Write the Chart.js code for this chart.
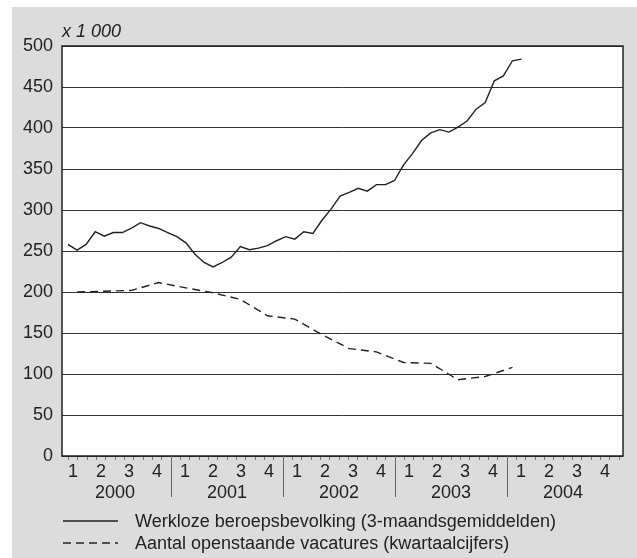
<!DOCTYPE html>
<html>
<head>
<meta charset="utf-8">
<script src="https://cdn.jsdelivr.net/npm/chart.js@4.4.1/dist/chart.umd.min.js"></script>
<style>
  html, body { margin: 0; padding: 0; background: #fff; }
  #wrap { width: 637px; height: 558px; position: relative; }
</style>
</head>
<body>
<div id="wrap"><canvas id="chart" width="637" height="558"></canvas></div>
<script>
// Werkloze beroepsbevolking, 3-maandsgemiddelden (x 1 000), one value per month from Jan 2000
const werkloos = [258, 251, 258, 273.5, 268, 272.5, 272.5, 278, 284.5, 280.5, 277.5, 272.5,
  267.5, 260, 246, 236, 230.5, 236, 242.5, 255.5, 251.5, 253.5, 256.5, 262.5,
  267.5, 264.5, 273.5, 271.5, 287.5, 301, 317, 321.5, 326.5, 323, 331, 331,
  336, 355, 369, 385, 394, 398, 395, 401, 408.5, 423, 431, 457.5, 463.5, 482, 484];

// Openstaande vacatures, kwartaalcijfers (x 1 000), Q1 2000 onwards
const vacatures = [200, 201, 202, 211.5, 205, 199, 191, 171, 167, 148, 131, 127, 114, 113, 93, 97, 108];

const years = ['2000', '2001', '2002', '2003', '2004'];
const quarters = ['1', '2', '3', '4'];
const seriesLabels = [
    'Werkloze beroepsbevolking (3-maandsgemiddelden)',
    'Aantal openstaande vacatures (kwartaalcijfers)'
];

const FONT = "'Liberation Sans', Arial, sans-serif";
const INK = '#222';

Chart.defaults.font.family = FONT;
Chart.defaults.color = INK;

// monthly series sits on its index, quarterly series on the middle month of each quarter
const werkloosPts = werkloos.map((v, i) => ({ x: i, y: v }));
const vacaturePts = vacatures.map((v, i) => ({ x: i * 3 + 1, y: v }));

// tick positions for the label axis: month marks + quarter centres
const labelTicks = [];
for (let m = 0.5; m <= 60; m += 0.5) labelTicks.push(m);

const frame = {
    id: 'frame',
    beforeDraw(chart) {
        const c = chart.ctx;
        c.save();
        c.fillStyle = '#fff';
        c.fillRect(0, 0, chart.width, chart.height);
        c.fillStyle = '#dcdcdc';
        c.fillRect(12, 7, chart.width - 12, chart.height - 7);
        const a = chart.chartArea;
        c.fillStyle = '#fff';
        c.fillRect(a.left, a.top, a.right - a.left, a.bottom - a.top);
        c.restore();
    },
    afterDraw(chart) {
        const c = chart.ctx;
        const a = chart.chartArea;
        const q = chart.scales.q;
        c.save();

        // plot border
        c.strokeStyle = INK;
        c.lineWidth = 1.5;
        c.strokeRect(a.left, a.top, a.right - a.left, a.bottom - a.top);

        // year separators
        c.strokeStyle = '#666';
        c.lineWidth = 1;
        for (let m = 12; m < 60; m += 12) {
            const px = Math.round(q.getPixelForValue(m)) + 0.5;
            c.beginPath();
            c.moveTo(px, a.bottom);
            c.lineTo(px, a.bottom + 41);
            c.stroke();
        }

        // year labels, centred under each year on the label axis
        c.fillStyle = INK;
        c.font = '18px ' + FONT;
        c.textAlign = 'center';
        c.textBaseline = 'middle';
        years.forEach((y, i) => {
            c.fillText(y, q.getPixelForValue(i * 12 + 6), a.bottom + 37);
        });

        // unit label
        c.font = 'italic 18px ' + FONT;
        c.textBaseline = 'alphabetic';
        c.textAlign = 'left';
        c.fillText('x 1 000', a.left, 37);

        // legend
        c.font = '18px ' + FONT;
        c.textBaseline = 'middle';
        chart.data.datasets.forEach((ds, i) => {
            const y = 521 + i * 22;
            c.strokeStyle = ds.borderColor;
            c.lineWidth = ds.borderWidth;
            c.setLineDash(ds.borderDash || []);
            c.beginPath();
            c.moveTo(63, y);
            c.lineTo(118, y);
            c.stroke();
            c.setLineDash([]);
            c.fillText(ds.label, 135, y + 1);
        });
        c.restore();
    }
};

new Chart(document.getElementById('chart'), {
    type: 'line',
    data: {
        datasets: [
            {
                label: seriesLabels[0],
                data: werkloosPts,
                borderColor: INK,
                borderWidth: 1.4,
                pointRadius: 0,
                tension: 0,
                xAxisID: 'x'
            },
            {
                label: seriesLabels[1],
                data: vacaturePts,
                borderColor: INK,
                borderWidth: 1.4,
                borderDash: [8, 5],
                pointRadius: 0,
                tension: 0,
                xAxisID: 'x'
            }
        ]
    },
    options: {
        responsive: false,
        animation: false,
        layout: { padding: { left: 12, top: 46, right: 14, bottom: 76 } },
        plugins: {
            legend: { display: false },
            tooltip: { enabled: false }
        },
        scales: {
            x: {
                type: 'linear',
                display: false,
                min: -0.66,
                max: 61.19
            },
            q: {
                type: 'linear',
                position: 'bottom',
                min: 0.31,
                max: 60.42,
                afterBuildTicks: (s) => { s.ticks = labelTicks.map(v => ({ value: v })); },
                afterFit: (s) => { s.height = 26; },
                ticks: {
                    autoSkip: false,
                    maxRotation: 0,
                    padding: 1,
                    font: { size: 18 },
                    callback: (v) => (v % 3 === 1.5 ? quarters[Math.floor(v / 3) % 4] : '')
                },
                grid: {
                    drawOnChartArea: false,
                    drawTicks: true,
                    tickLength: 4,
                    tickColor: (ctx) => (ctx.tick && Number.isInteger(ctx.tick.value) ? '#777' : 'rgba(0,0,0,0)')
                },
                border: { display: false }
            },
            y: {
                min: 0,
                max: 500,
                afterFit: (s) => { s.width = 50; },
                ticks: { stepSize: 50, padding: 9, font: { size: 18 } },
                grid: { color: '#333', lineWidth: 1, drawTicks: false },
                border: { display: false }
            }
        }
    },
    plugins: [frame]
});
</script>
</body>
</html>
